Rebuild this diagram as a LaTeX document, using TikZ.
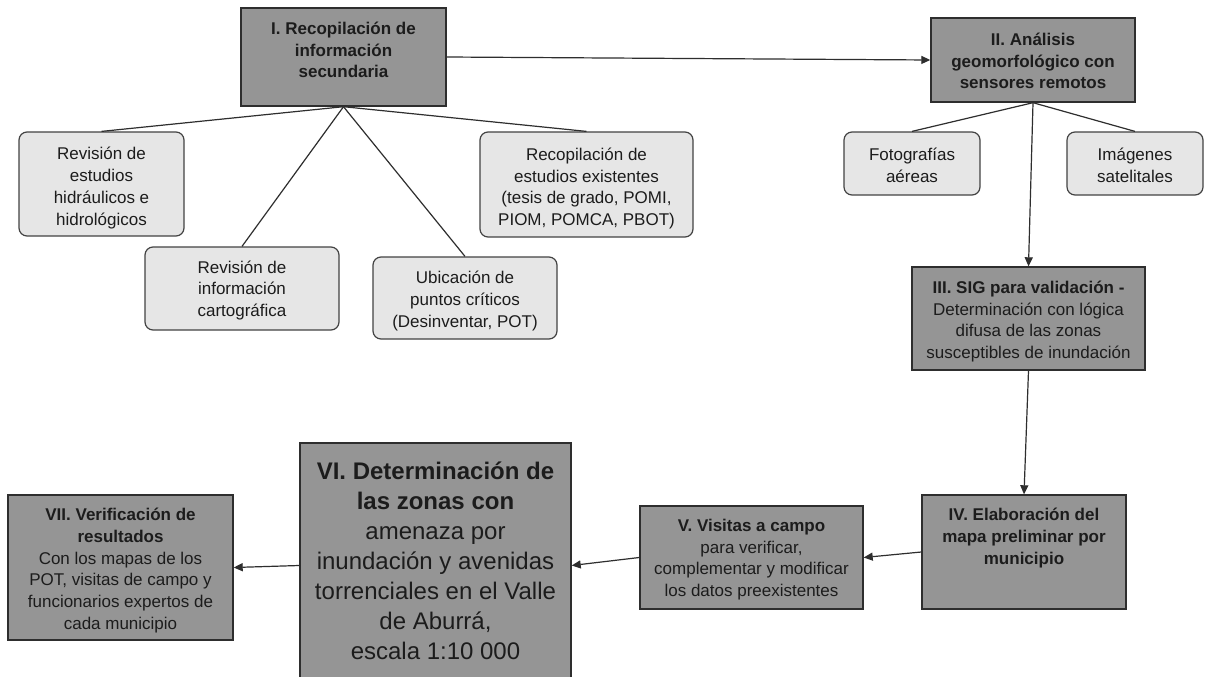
\documentclass[tikz,border=0pt]{standalone}
\usepackage{fontspec}
\setmainfont{Liberation Sans}
\usetikzlibrary{arrows.meta}
\definecolor{darkfill}{HTML}{959595}
\definecolor{lightfill}{HTML}{E6E6E6}
\definecolor{edgecol}{HTML}{2E2E2E}
\definecolor{ink}{HTML}{1C1C1C}
\begin{document}
\begin{tikzpicture}[x=1pt,y=-1pt,
  dbox/.style={draw=edgecol, line width=1.4pt, fill=darkfill, inner sep=0pt},
  lbox/.style={draw=edgecol!90, line width=1.2pt, fill=lightfill, rounded corners=8pt, inner sep=0pt},
  txt/.style={align=center, text=ink, font=\fontsize{17}{21.7}\selectfont, inner sep=0pt},
  bigtxt/.style={align=center, text=ink, font=\fontsize{24}{30}\selectfont, inner sep=0pt},
  conn/.style={draw=edgecol, line width=1.2pt},
  arr/.style={conn, -{Triangle[length=9pt,width=8pt]}}]
\fill[white] (0,0) rectangle (1205,677);
\useasboundingbox (0,0) rectangle (1205,677);

% main process boxes
\node[dbox, minimum width=205pt, minimum height=98pt,
  label={[txt, font=\fontsize{17}{21.7}\selectfont\bfseries, yshift=7pt]center:{I. Recopilación de\\información\\secundaria}}] (n1) at (343.5,57) {};
\node[dbox, minimum width=204pt, minimum height=84pt,
  label={[txt, font=\fontsize{17}{21.7}\selectfont\bfseries, yshift=-1pt]center:{II. Análisis\\geomorfológico con\\sensores remotos}}] (n2) at (1033,60) {};
\node[dbox, minimum width=233pt, minimum height=103pt,
  label={[txt, yshift=-3pt]center:{\textbf{III. SIG para validación -}\\Determinación con lógica\\difusa de las zonas\\susceptibles de inundación}}] (n3) at (1028.5,318.5) {};
\node[dbox, minimum width=204pt, minimum height=114pt,
  label={[txt, font=\fontsize{17}{21.7}\selectfont\bfseries, yshift=14pt]center:{IV. Elaboración del\\mapa preliminar por\\municipio}}] (n4) at (1024,552) {};
\node[dbox, minimum width=223pt, minimum height=103pt,
  label={[txt, yshift=-2pt]center:{\textbf{V. Visitas a campo}\\para verificar,\\complementar y modificar\\los datos preexistentes}}] (n5) at (751.5,557.5) {};
\node[dbox, minimum width=271pt, minimum height=245pt,
  label={[bigtxt, yshift=5pt]center:{\textbf{VI. Determinación de}\\\textbf{las zonas con}\\amenaza por\\inundación y avenidas\\torrenciales en el Valle\\de Aburrá,\\escala 1:10 000}}] (n6) at (435.5,565.5) {};
\node[dbox, minimum width=225pt, minimum height=145pt,
  label={[txt, yshift=-3pt]center:{\textbf{VII. Verificación de}\\\textbf{resultados}\\Con los mapas de los\\POT, visitas de campo y\\funcionarios expertos de\\cada municipio}}] (n7) at (120.5,567.5) {};

% sub boxes
\node[lbox, minimum width=165pt, minimum height=104pt,
  label={[txt, yshift=-4pt]center:{Revisión de\\estudios\\hidráulicos e\\hidrológicos}}] (a) at (101.5,184) {};
\node[lbox, minimum width=194pt, minimum height=83pt,
  label={[txt, yshift=-2pt]center:{Revisión de\\información\\cartográfica}}] (b) at (242,288.5) {};
\node[lbox, minimum width=184pt, minimum height=82pt,
  label={[txt, yshift=-3pt]center:{Ubicación de\\puntos críticos\\(Desinventar, POT)}}] (c) at (465,298) {};
\node[lbox, minimum width=213pt, minimum height=105pt,
  label={[txt, yshift=-4pt]center:{Recopilación de\\estudios existentes\\(tesis de grado, POMI,\\PIOM, POMCA, PBOT)}}] (d) at (586.5,184.5) {};
\node[lbox, minimum width=136pt, minimum height=63pt,
  label={[txt, yshift=-2pt]center:{Fotografías\\aéreas}}] (f) at (912,163.5) {};
\node[lbox, minimum width=136pt, minimum height=63pt,
  label={[txt, yshift=-2pt]center:{Imágenes\\satelitales}}] (g) at (1135,163.5) {};

% tree connectors
\draw[conn] (n1.south) -- (a.north);
\draw[conn] (n1.south) -- (b.north);
\draw[conn] (n1.south) -- (c.north);
\draw[conn] (n1.south) -- (d.north);
\draw[conn] (n2.south) -- (f.north);
\draw[conn] (n2.south) -- (g.north);

% process arrows
\draw[arr] (n1.east) -- (n2.west);
\draw[arr] (n2.south) -- (n3.north);
\draw[arr] (n3.south) -- (n4.north);
\draw[arr] (n4.west) -- (n5.east);
\draw[arr] (n5.west) -- (n6.east);
\draw[arr] (n6.west) -- (n7.east);
\end{tikzpicture}
\end{document}
